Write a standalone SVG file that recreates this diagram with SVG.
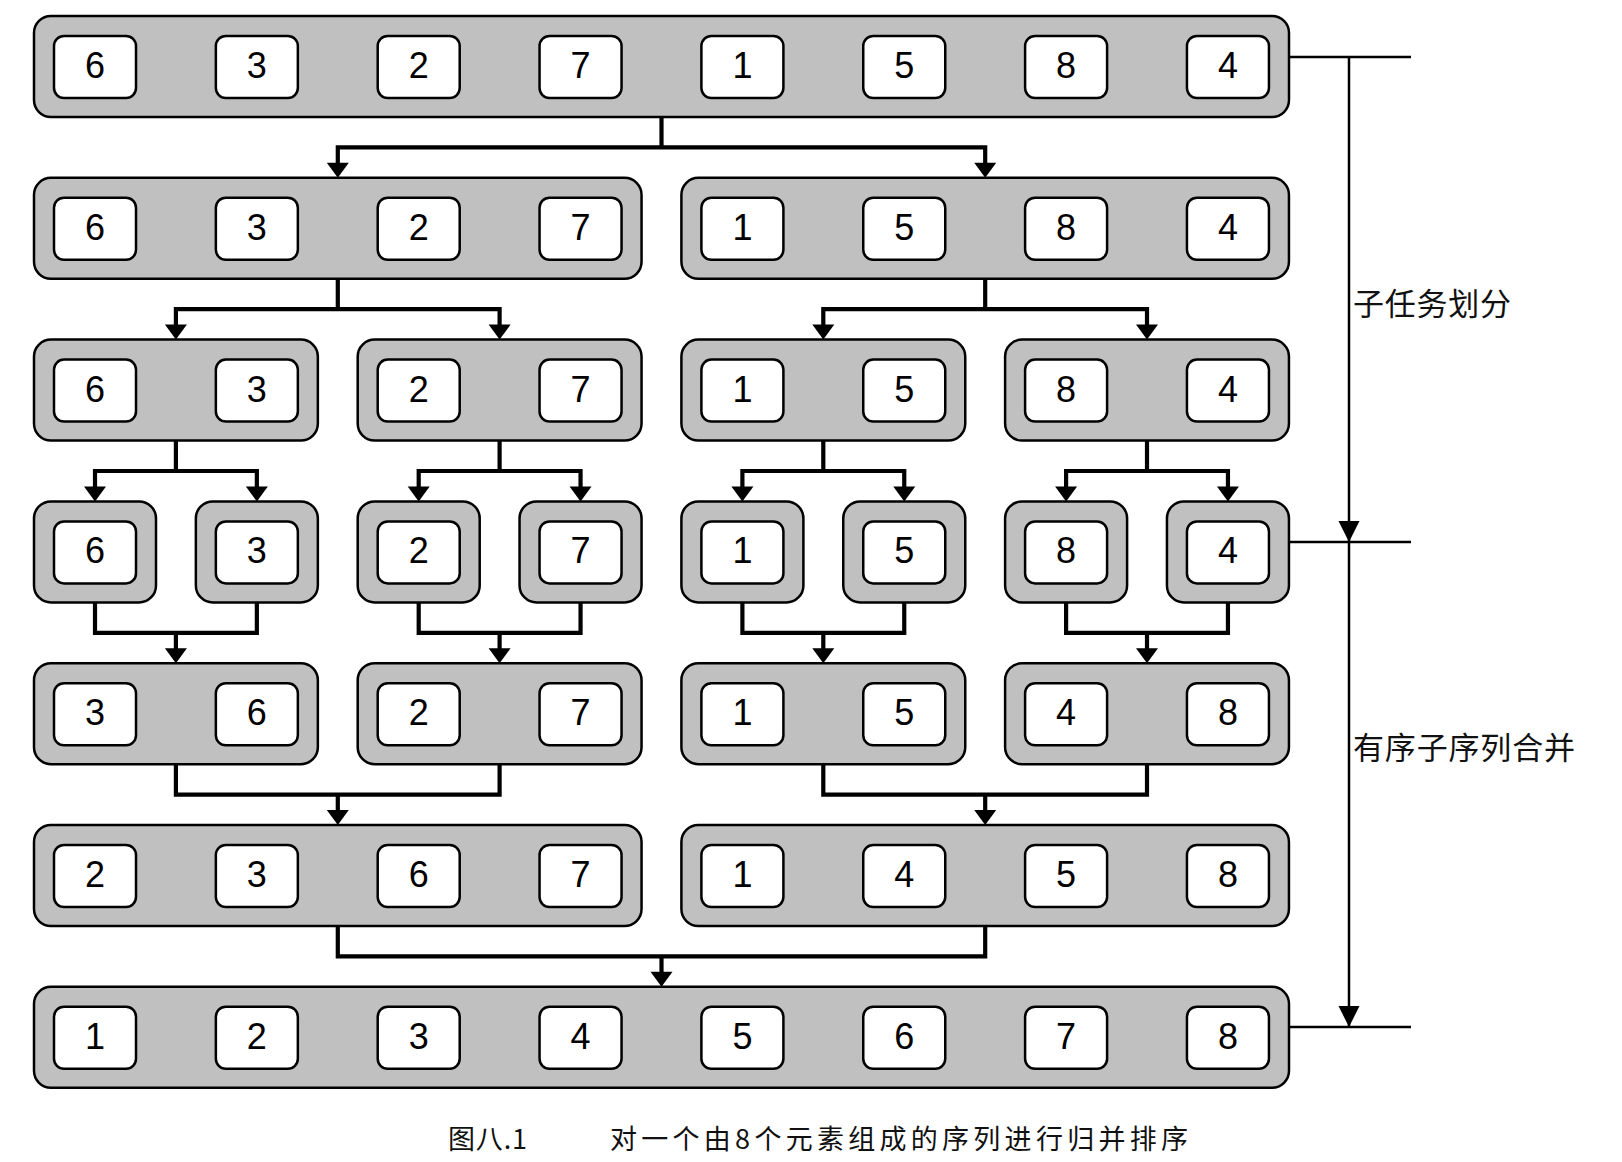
<svg xmlns="http://www.w3.org/2000/svg" xmlns:xlink="http://www.w3.org/1999/xlink" width="1622" height="1162" viewBox="0 0 1622 1162">
<style>
.outer{fill:#c0c0c0;stroke:#000;stroke-width:2.5}
.inner{fill:#fff;stroke:#000;stroke-width:2.5}
.num{font-family:"Liberation Sans Narrow","Arial Narrow","Liberation Sans",sans-serif;font-size:36px;text-anchor:middle;fill:#000}
.conn{fill:none;stroke:#000;stroke-width:4.2;stroke-linejoin:miter;stroke-linecap:butt}
.thin{fill:none;stroke:#000;stroke-width:2.5}
.lbl{font-family:"Noto Sans CJK SC","Noto Sans",sans-serif;fill:#111}
</style>
<defs>
<path id="ah" d="M-11,-15 L11,-15 L0,0 Z" fill="#000"/>
<path id="ah2" d="M-10.5,-21 L10.5,-21 L0,0 Z" fill="#000"/>
<rect id="b" width="82" height="62" rx="10" class="inner"/>
</defs>

<!-- Row 0 -->
<g id="r0" transform="translate(34,16)">
<rect width="1255" height="101" rx="17" class="outer"/>
<use xlink:href="#b" x="20" y="20"/><text class="num" x="61" y="62">6</text>
<use xlink:href="#b" x="181.85" y="20"/><text class="num" x="222.85" y="62">3</text>
<use xlink:href="#b" x="343.7" y="20"/><text class="num" x="384.7" y="62">2</text>
<use xlink:href="#b" x="505.55" y="20"/><text class="num" x="546.55" y="62">7</text>
<use xlink:href="#b" x="667.4" y="20"/><text class="num" x="708.4" y="62">1</text>
<use xlink:href="#b" x="829.25" y="20"/><text class="num" x="870.25" y="62">5</text>
<use xlink:href="#b" x="991.1" y="20"/><text class="num" x="1032.1" y="62">8</text>
<use xlink:href="#b" x="1152.95" y="20"/><text class="num" x="1193.95" y="62">4</text>
</g>

<!-- Row 1 -->
<g id="r1a" transform="translate(34,177.8)">
<rect width="607.55" height="101" rx="17" class="outer"/>
<use xlink:href="#b" x="20" y="20"/><text class="num" x="61" y="62">6</text>
<use xlink:href="#b" x="181.85" y="20"/><text class="num" x="222.85" y="62">3</text>
<use xlink:href="#b" x="343.7" y="20"/><text class="num" x="384.7" y="62">2</text>
<use xlink:href="#b" x="505.55" y="20"/><text class="num" x="546.55" y="62">7</text>
</g>
<g id="r1b" transform="translate(681.4,177.8)">
<rect width="607.55" height="101" rx="17" class="outer"/>
<use xlink:href="#b" x="20" y="20"/><text class="num" x="61" y="62">1</text>
<use xlink:href="#b" x="181.85" y="20"/><text class="num" x="222.85" y="62">5</text>
<use xlink:href="#b" x="343.7" y="20"/><text class="num" x="384.7" y="62">8</text>
<use xlink:href="#b" x="505.55" y="20"/><text class="num" x="546.55" y="62">4</text>
</g>

<!-- Row 2 -->
<g id="r2a" transform="translate(34,339.6)">
<rect width="283.85" height="101" rx="17" class="outer"/>
<use xlink:href="#b" x="20" y="20"/><text class="num" x="61" y="62">6</text>
<use xlink:href="#b" x="181.85" y="20"/><text class="num" x="222.85" y="62">3</text>
</g>
<g id="r2b" transform="translate(357.7,339.6)">
<rect width="283.85" height="101" rx="17" class="outer"/>
<use xlink:href="#b" x="20" y="20"/><text class="num" x="61" y="62">2</text>
<use xlink:href="#b" x="181.85" y="20"/><text class="num" x="222.85" y="62">7</text>
</g>
<g id="r2c" transform="translate(681.4,339.6)">
<rect width="283.85" height="101" rx="17" class="outer"/>
<use xlink:href="#b" x="20" y="20"/><text class="num" x="61" y="62">1</text>
<use xlink:href="#b" x="181.85" y="20"/><text class="num" x="222.85" y="62">5</text>
</g>
<g id="r2d" transform="translate(1005.1,339.6)">
<rect width="283.85" height="101" rx="17" class="outer"/>
<use xlink:href="#b" x="20" y="20"/><text class="num" x="61" y="62">8</text>
<use xlink:href="#b" x="181.85" y="20"/><text class="num" x="222.85" y="62">4</text>
</g>

<!-- Row 3 -->
<g id="r3a" transform="translate(34,501.4)"><rect width="122" height="101" rx="17" class="outer"/><use xlink:href="#b" x="20" y="20"/><text class="num" x="61" y="62">6</text></g>
<g id="r3b" transform="translate(195.85,501.4)"><rect width="122" height="101" rx="17" class="outer"/><use xlink:href="#b" x="20" y="20"/><text class="num" x="61" y="62">3</text></g>
<g id="r3c" transform="translate(357.7,501.4)"><rect width="122" height="101" rx="17" class="outer"/><use xlink:href="#b" x="20" y="20"/><text class="num" x="61" y="62">2</text></g>
<g id="r3d" transform="translate(519.55,501.4)"><rect width="122" height="101" rx="17" class="outer"/><use xlink:href="#b" x="20" y="20"/><text class="num" x="61" y="62">7</text></g>
<g id="r3e" transform="translate(681.4,501.4)"><rect width="122" height="101" rx="17" class="outer"/><use xlink:href="#b" x="20" y="20"/><text class="num" x="61" y="62">1</text></g>
<g id="r3f" transform="translate(843.25,501.4)"><rect width="122" height="101" rx="17" class="outer"/><use xlink:href="#b" x="20" y="20"/><text class="num" x="61" y="62">5</text></g>
<g id="r3g" transform="translate(1005.1,501.4)"><rect width="122" height="101" rx="17" class="outer"/><use xlink:href="#b" x="20" y="20"/><text class="num" x="61" y="62">8</text></g>
<g id="r3h" transform="translate(1166.95,501.4)"><rect width="122" height="101" rx="17" class="outer"/><use xlink:href="#b" x="20" y="20"/><text class="num" x="61" y="62">4</text></g>

<!-- Row 4 -->
<g id="r4a" transform="translate(34,663.2)">
<rect width="283.85" height="101" rx="17" class="outer"/>
<use xlink:href="#b" x="20" y="20"/><text class="num" x="61" y="62">3</text>
<use xlink:href="#b" x="181.85" y="20"/><text class="num" x="222.85" y="62">6</text>
</g>
<g id="r4b" transform="translate(357.7,663.2)">
<rect width="283.85" height="101" rx="17" class="outer"/>
<use xlink:href="#b" x="20" y="20"/><text class="num" x="61" y="62">2</text>
<use xlink:href="#b" x="181.85" y="20"/><text class="num" x="222.85" y="62">7</text>
</g>
<g id="r4c" transform="translate(681.4,663.2)">
<rect width="283.85" height="101" rx="17" class="outer"/>
<use xlink:href="#b" x="20" y="20"/><text class="num" x="61" y="62">1</text>
<use xlink:href="#b" x="181.85" y="20"/><text class="num" x="222.85" y="62">5</text>
</g>
<g id="r4d" transform="translate(1005.1,663.2)">
<rect width="283.85" height="101" rx="17" class="outer"/>
<use xlink:href="#b" x="20" y="20"/><text class="num" x="61" y="62">4</text>
<use xlink:href="#b" x="181.85" y="20"/><text class="num" x="222.85" y="62">8</text>
</g>

<!-- Row 5 -->
<g id="r5a" transform="translate(34,825)">
<rect width="607.55" height="101" rx="17" class="outer"/>
<use xlink:href="#b" x="20" y="20"/><text class="num" x="61" y="62">2</text>
<use xlink:href="#b" x="181.85" y="20"/><text class="num" x="222.85" y="62">3</text>
<use xlink:href="#b" x="343.7" y="20"/><text class="num" x="384.7" y="62">6</text>
<use xlink:href="#b" x="505.55" y="20"/><text class="num" x="546.55" y="62">7</text>
</g>
<g id="r5b" transform="translate(681.4,825)">
<rect width="607.55" height="101" rx="17" class="outer"/>
<use xlink:href="#b" x="20" y="20"/><text class="num" x="61" y="62">1</text>
<use xlink:href="#b" x="181.85" y="20"/><text class="num" x="222.85" y="62">4</text>
<use xlink:href="#b" x="343.7" y="20"/><text class="num" x="384.7" y="62">5</text>
<use xlink:href="#b" x="505.55" y="20"/><text class="num" x="546.55" y="62">8</text>
</g>

<!-- Row 6 -->
<g id="r6" transform="translate(34,986.8)">
<rect width="1255" height="101" rx="17" class="outer"/>
<use xlink:href="#b" x="20" y="20"/><text class="num" x="61" y="62">1</text>
<use xlink:href="#b" x="181.85" y="20"/><text class="num" x="222.85" y="62">2</text>
<use xlink:href="#b" x="343.7" y="20"/><text class="num" x="384.7" y="62">3</text>
<use xlink:href="#b" x="505.55" y="20"/><text class="num" x="546.55" y="62">4</text>
<use xlink:href="#b" x="667.4" y="20"/><text class="num" x="708.4" y="62">5</text>
<use xlink:href="#b" x="829.25" y="20"/><text class="num" x="870.25" y="62">6</text>
<use xlink:href="#b" x="991.1" y="20"/><text class="num" x="1032.1" y="62">7</text>
<use xlink:href="#b" x="1152.95" y="20"/><text class="num" x="1193.95" y="62">8</text>
</g>

<!-- Connectors -->
<g id="connectors">
<path class="conn" d="M661.5,117 V147.4 M337.8,163 V147.4 H985.2 V163"/>
<use xlink:href="#ah" x="337.8" y="177.8"/><use xlink:href="#ah" x="985.2" y="177.8"/>

<path class="conn" d="M337.8,278.8 V309.2 M175.9,325 V309.2 H499.6 V325 M985.2,278.8 V309.2 M823.3,325 V309.2 H1147 V325"/>
<use xlink:href="#ah" x="175.9" y="339.6"/><use xlink:href="#ah" x="499.6" y="339.6"/>
<use xlink:href="#ah" x="823.3" y="339.6"/><use xlink:href="#ah" x="1147" y="339.6"/>

<path class="conn" d="M175.9,440.6 V471 M95,487 V471 H256.85 V487 M499.6,440.6 V471 M418.7,487 V471 H580.55 V487 M823.3,440.6 V471 M742.4,487 V471 H904.25 V487 M1147,440.6 V471 M1066.1,487 V471 H1227.95 V487"/>
<use xlink:href="#ah" x="95" y="501.4"/><use xlink:href="#ah" x="256.85" y="501.4"/>
<use xlink:href="#ah" x="418.7" y="501.4"/><use xlink:href="#ah" x="580.55" y="501.4"/>
<use xlink:href="#ah" x="742.4" y="501.4"/><use xlink:href="#ah" x="904.25" y="501.4"/>
<use xlink:href="#ah" x="1066.1" y="501.4"/><use xlink:href="#ah" x="1227.95" y="501.4"/>

<path class="conn" d="M95,602.4 V632.8 H256.85 V602.4 M175.9,632.8 V649 M418.7,602.4 V632.8 H580.55 V602.4 M499.6,632.8 V649 M742.4,602.4 V632.8 H904.25 V602.4 M823.3,632.8 V649 M1066.1,602.4 V632.8 H1227.95 V602.4 M1147,632.8 V649"/>
<use xlink:href="#ah" x="175.9" y="663.2"/><use xlink:href="#ah" x="499.6" y="663.2"/>
<use xlink:href="#ah" x="823.3" y="663.2"/><use xlink:href="#ah" x="1147" y="663.2"/>

<path class="conn" d="M175.9,764.2 V794.6 H499.6 V764.2 M337.8,794.6 V811 M823.3,764.2 V794.6 H1147 V764.2 M985.2,794.6 V811"/>
<use xlink:href="#ah" x="337.8" y="825"/><use xlink:href="#ah" x="985.2" y="825"/>

<path class="conn" d="M337.8,926 V956.4 H985.2 V926 M661.5,956.4 V972"/>
<use xlink:href="#ah" x="661.5" y="986.8"/>

<path class="thin" d="M1289,57 H1411 M1289,542 H1411 M1289,1027 H1411 M1349,57 V1027"/>
<use xlink:href="#ah2" x="1349" y="542"/><use xlink:href="#ah2" x="1349" y="1027"/>
</g>

<g id="labels">
<text class="lbl" x="1353" y="315" font-size="31" textLength="158" lengthAdjust="spacing">子任务划分</text>
<text class="lbl" x="1353" y="759" font-size="31" textLength="222" lengthAdjust="spacing">有序子序列合并</text>
<text class="lbl" x="448" y="1149" font-size="27" textLength="79" lengthAdjust="spacing" fill="#333">图八.1</text>
<text class="lbl" x="610" y="1149" font-size="27" textLength="578" lengthAdjust="spacing" fill="#333">对一个由8个元素组成的序列进行归并排序</text>
</g>
</svg>
